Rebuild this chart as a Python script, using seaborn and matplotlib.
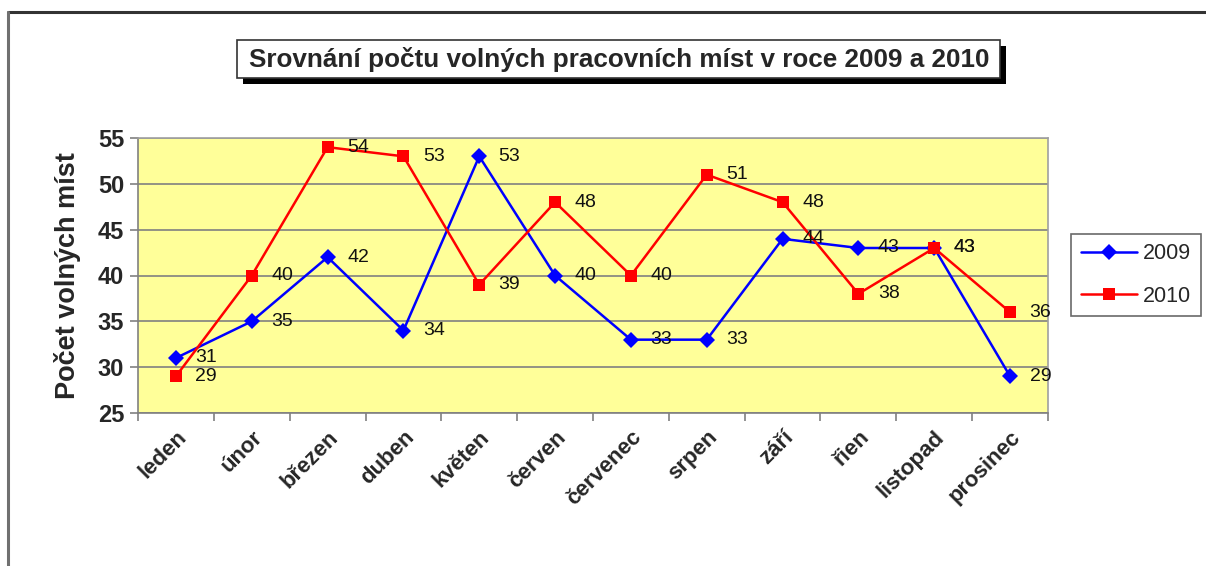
import matplotlib
matplotlib.use("Agg")
import matplotlib.pyplot as plt
from matplotlib.patches import Rectangle
from matplotlib.lines import Line2D
import seaborn as sns
import pandas as pd

months = ["leden", "únor", "březen", "duben", "květen", "červen", "červenec",
          "srpen", "září", "řien", "listopad", "prosinec"]
v2009 = [31, 35, 42, 34, 53, 40, 33, 33, 44, 43, 43, 29]
v2010 = [29, 40, 54, 53, 39, 48, 40, 51, 48, 38, 43, 36]
years = ["2009", "2010"]
title = "Srovnání počtu volných pracovních míst v roce 2009 a 2010"
ylabel = "Počet volných míst"
yticks = [25, 30, 35, 40, 45, 50, 55]

sns.set_theme(style="white")
plt.rcParams['font.family'] = ['Liberation Sans', 'DejaVu Sans']

df = pd.DataFrame({
    "month": months * 2,
    "value": v2009 + v2010,
    "year": [years[0]] * 12 + [years[1]] * 12,
})

W, H = 1206, 566
fig = plt.figure(figsize=(W / 100, H / 100), dpi=100)
fig.patch.set_facecolor("white")

def fx(px):
    return px / W

def fy(py):
    return 1 - py / H

ax = fig.add_axes([fx(138), fy(413), fx(1048) - fx(138), fy(138) - fy(413)])
ax.set_facecolor("#FFFF99")

sns.lineplot(data=df, x="month", y="value", hue="year", style="year",
             palette={"2009": "#0000FF", "2010": "#FF0000"},
             markers={"2009": "D", "2010": "s"}, dashes=False,
             markersize=8.5, linewidth=1.8, markeredgewidth=0,
             sort=False, ax=ax, legend=True)

ax.set_xlim(-0.5, 11.5)
ax.set_ylim(25, 55)
ax.set_yticks(yticks)
ax.yaxis.grid(True, color="#808080", linewidth=1.2)
ax.set_axisbelow(True)

for spine in ["left", "bottom"]:
    ax.spines[spine].set_color("#808080")
    ax.spines[spine].set_linewidth(1.2)
for spine in ["top", "right"]:
    ax.spines[spine].set_color("#A0A0A0")
    ax.spines[spine].set_linewidth(1.2)

ax.set_xticks([i - 0.5 for i in range(13)], minor=False)
ax.set_xticklabels([])
ax.set_xticks(range(12), minor=True)
ax.set_xticklabels(months, minor=True, rotation=45, ha="right", va="top",
                   rotation_mode="anchor", fontsize=16, fontweight="bold")
ax.tick_params(axis="x", which="minor", length=0, pad=10)
ax.tick_params(axis="x", which="major", length=6, width=1.2, color="#808080", direction="out", bottom=True)
ax.tick_params(axis="y", length=6, width=1.2, color="#808080", direction="out", left=True,
               labelsize=17, pad=4)
for t in ax.get_yticklabels():
    t.set_fontweight("bold")

ax.set_xlabel("")
ax.set_ylabel(ylabel, fontsize=19.5, fontweight="bold", labelpad=12)

for i in range(12):
    ax.annotate(str(v2009[i]), (i, v2009[i]), xytext=(14, 0), textcoords="offset points",
                va="center", ha="left", fontsize=14, color="#111111")
    ax.annotate(str(v2010[i]), (i, v2010[i]), xytext=(14, 0), textcoords="offset points",
                va="center", ha="left", fontsize=14, color="#111111")

leg = ax.legend(loc="center left", frameon=True, fontsize=15.5, fancybox=False,
                handlelength=2.6, handletextpad=0.3, borderpad=0.45,
                labelspacing=1.0, borderaxespad=0)
leg.get_frame().set_edgecolor("#444444")
leg.get_frame().set_linewidth(1.2)
leg.set_bbox_to_anchor((fx(1071), fy(275)), transform=fig.transFigure)

# title box with shadow
fig.patches.append(Rectangle((fx(243), fy(84)), fx(1006) - fx(243), fy(46) - fy(84),
                             transform=fig.transFigure, facecolor="black", edgecolor="none", zorder=1))
fig.patches.append(Rectangle((fx(237), fy(78)), fx(1000) - fx(237), fy(40) - fy(78),
                             transform=fig.transFigure, facecolor="white", edgecolor="#333333",
                             linewidth=1.2, zorder=2))
fig.text(fx(619), fy(59), title, ha="center", va="center", fontsize=18.8,
         fontweight="bold", zorder=3)

# outer chart border (top and left)
fig.add_artist(Line2D([fx(8), 1], [fy(12), fy(12)], transform=fig.transFigure,
                      color="#333333", linewidth=2.2))
fig.add_artist(Line2D([fx(8), fx(8)], [fy(12), 0], transform=fig.transFigure,
                      color="#707070", linewidth=2.2))

fig.savefig("out.png", dpi=100)
